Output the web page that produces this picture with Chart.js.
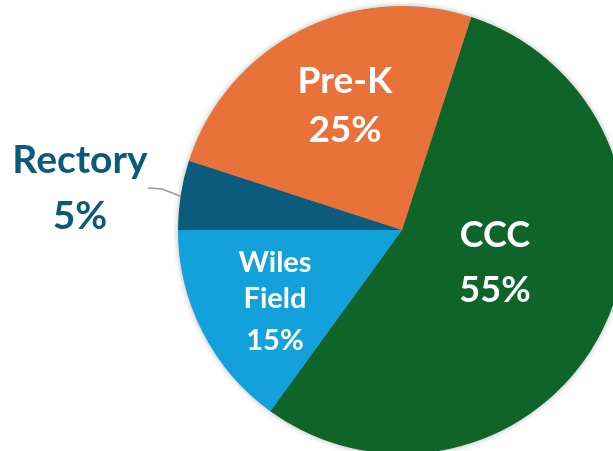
<!DOCTYPE html>
<html>
<head>
<meta charset="utf-8">
<script src="https://cdn.jsdelivr.net/npm/chart.js@4"></script>
<style>
  html, body { margin: 0; padding: 0; background: #fff; overflow: hidden; }
  #wrap { position: absolute; left: 0; top: 0; width: 640px; height: 460px; }
</style>
</head>
<body>
<div id="wrap"><canvas id="pieChart"></canvas></div>
<script>
const labels = ['CCC', 'Wiles Field', 'Rectory', 'Pre-K'];
const shares = [55, 15, 5, 25];
const sliceColors = ['#0E6429', '#13A1DB', '#0A5B7C', '#E8723A'];

const FONT = 'Lato, "Open Sans", sans-serif';

// text lines for each slice, placed relative to the pie centre
const labelLines = [
  { lines: ['CCC', '55%'], dx: 93, base: [17, 72], size: 36, color: '#fff' },
  { lines: ['Wiles', 'Field', '15%'], dx: -127, base: [42, 78, 120], size: 29, color: '#fff' },
  { lines: ['Rectory', '5%'], dx: -322, base: [-57, -1], size: 39, color: '#0B5A7A' },
  { lines: ['Pre-K', '25%'], dx: -57, base: [-137, -88], size: 37, color: '#fff' }
];

const pieExtras = {
  id: 'pieExtras',
  beforeDatasetsDraw(chart) {
    const arc = chart.getDatasetMeta(0).data[0];
    const ctx = chart.ctx;
    ctx.save();
    ctx.shadowColor = 'rgba(0,0,0,0.35)';
    ctx.shadowBlur = 6;
    ctx.fillStyle = '#888';
    ctx.beginPath();
    ctx.arc(arc.x, arc.y, arc.outerRadius - 0.5, 0, Math.PI * 2);
    ctx.fill();
    ctx.restore();
  },
  afterDatasetsDraw(chart) {
    const arc = chart.getDatasetMeta(0).data[0];
    const cx = arc.x, cy = arc.y;
    const ctx = chart.ctx;
    ctx.save();
    // leader line for Rectory
    ctx.strokeStyle = '#9a9a9a';
    ctx.lineWidth = 1.5;
    ctx.beginPath();
    ctx.moveTo(cx - 254, cy - 42);
    ctx.lineTo(cx - 240, cy - 41);
    ctx.lineTo(cx - 222, cy - 34);
    ctx.stroke();

    ctx.textAlign = 'center';
    ctx.textBaseline = 'alphabetic';
    labelLines.forEach(l => {
      ctx.fillStyle = l.color;
      ctx.font = `bold ${l.size}px ${FONT}`;
      l.lines.forEach((t, i) => ctx.fillText(t, cx + l.dx, cy + l.base[i]));
    });
    ctx.restore();
  }
};

new Chart(document.getElementById('pieChart'), {
  type: 'pie',
  data: {
    labels: labels,
    datasets: [{
      data: shares,
      backgroundColor: sliceColors,
      borderWidth: 0
    }]
  },
  options: {
    responsive: true,
    maintainAspectRatio: false,
    animation: false,
    rotation: 18,
    layout: { padding: { left: 178, top: 6, right: 14, bottom: 6 } },
    plugins: {
      legend: { display: false },
      tooltip: { enabled: false }
    }
  },
  plugins: [pieExtras]
});
</script>
</body>
</html>
